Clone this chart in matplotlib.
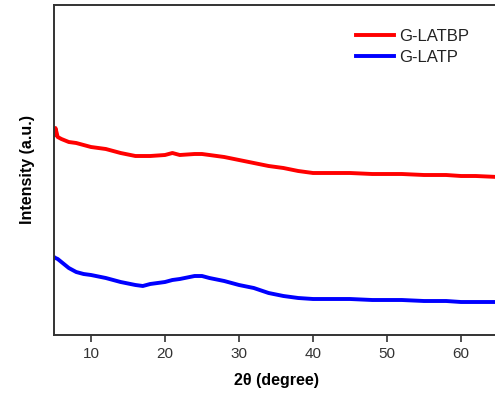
import matplotlib
matplotlib.use("Agg")
import matplotlib.pyplot as plt

plt.rcParams['font.family'] = ['Liberation Sans', 'DejaVu Sans']

two_theta = [5, 5.2, 5.5, 6, 7, 8, 9, 10, 12, 14, 16, 17, 18, 20, 21, 22, 24, 25, 26, 28, 30,
             32, 34, 36, 38, 40, 42, 45, 48, 50, 52, 55, 58, 60, 62, 65]
g_latbp = [200, 207, 198, 196, 193, 192, 190, 188, 186, 182, 179, 179, 179, 180, 182, 180, 181, 181, 180, 178, 175,
           172, 169, 167, 164, 162, 162, 162, 161, 161, 161, 160, 160, 159, 159, 158]
g_latp = [78, 77, 76, 73, 67, 63, 61, 60, 57, 53, 50, 49, 51, 53, 55, 56, 59, 59, 57, 54, 50,
          47, 42, 39, 37, 36, 36, 36, 35, 35, 35, 34, 34, 33, 33, 33]

xticks = [10, 20, 30, 40, 50, 60]

fig = plt.figure(figsize=(4.95, 3.96), dpi=100)
ax = fig.add_axes([54/495, 61/396, 444/495, 330/396])

ax.plot(two_theta, g_latbp, color='#ff0000', lw=2.8, label='G-LATBP')
ax.plot(two_theta, g_latp, color='#0000ff', lw=2.8, label='G-LATP')

ax.set_xlim(5, 65)
ax.set_ylim(0, 330)
ax.set_xticks(xticks)
ax.set_yticks([])
ax.tick_params(axis='x', direction='out', length=5, width=1.2, colors='#333333',
               labelsize=11, pad=4)
for s in ax.spines.values():
    s.set_linewidth(1.4)
    s.set_color('#333333')

ax.set_xlabel('2θ (degree)', fontsize=11.5, fontweight='bold', labelpad=8)
ax.set_ylabel('Intensity (a.u.)', fontsize=11.5, fontweight='bold', labelpad=14)

leg = ax.legend(loc='upper left', bbox_to_anchor=(0.665, 0.948), frameon=False,
                fontsize=12, handlelength=2.3, handletextpad=0.3, labelspacing=0.35,
                borderaxespad=0)
for t in leg.get_texts():
    t.set_color('#222222')

fig.savefig('out.png', dpi=100)
